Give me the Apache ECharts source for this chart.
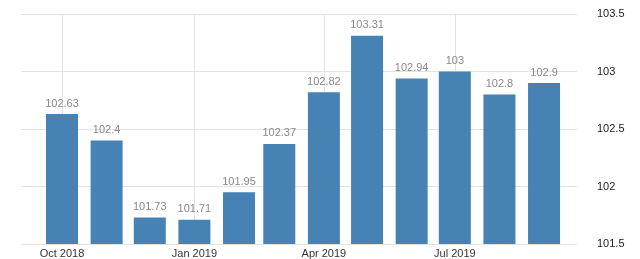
<!DOCTYPE html>
<html><head><meta charset="utf-8">
<script src="https://cdn.jsdelivr.net/npm/echarts@6/dist/echarts.min.js"></script>
<style>html,body{margin:0;padding:0;background:#fff}#c{width:640px;height:259px}</style>
</head><body><div id="c"></div>
<script>
const months = ['2018-10','2018-11','2018-12','2019-01','2019-02','2019-03','2019-04','2019-05','2019-06','2019-07','2019-08','2019-09'];
const values = [102.63,102.4,101.73,101.71,101.95,102.37,102.82,103.31,102.94,103,102.8,102.9];
const xTickDates = ['2018-10','2019-01','2019-04','2019-07'];
const xTickLabels = ['Oct 2018','Jan 2019','Apr 2019','Jul 2019'];
const yTicks = [101.5,102,102.5,103,103.5];

const DAY = 86400000;
const ts = s => { const [y,m] = s.split('-').map(Number); return Date.UTC(y, m-1, 1); };
const t0 = ts('2018-10');
const xMin = t0 - 28.5*DAY;
const xMax = xMin + 386.4*DAY;
const tickTs = xTickDates.map(ts);
const labelMap = {};
tickTs.forEach((t,i) => labelMap[t] = xTickLabels[i]);

const chart = echarts.init(document.getElementById('c'));
chart.setOption({
  animation: false,
  grid: {left: 21, right: 63, top: 14, bottom: 13},
  xAxis: {
    type: 'value', min: xMin, max: xMax, scale: true,
    axisLine: {show: false}, axisTick: {show: false},
    splitLine: {show: false},
    axisLabel: {
      customValues: tickTs,
      formatter: v => labelMap[v] || '',
      color: '#333', fontSize: 11, margin: 4, fontFamily: 'Arial, Liberation Sans, sans-serif'
    }
  },
  yAxis: {
    type: 'value', position: 'right', min: yTicks[0], max: yTicks[yTicks.length-1], interval: 0.5,
    axisLine: {show: false}, axisTick: {show: false},
    splitLine: {lineStyle: {color: '#e3e3e3', width: 1}},
    axisLabel: {color: '#222', fontSize: 11, margin: 20, fontFamily: 'Arial, Liberation Sans, sans-serif'}
  },
  series: [
    {
      type: 'line', data: [], z: 1, silent: true,
      markLine: {
        z: 1, symbol: 'none', silent: true, label: {show: false},
        lineStyle: {color: '#e3e3e3', type: 'solid', width: 1},
        data: tickTs.map(t => ({xAxis: t}))
      }
    },
    {
      type: 'bar', z: 3, barWidth: 32,
      data: months.map((m,i) => [ts(m), values[i]]),
      itemStyle: {color: '#4682b4'},
      label: {show: true, position: 'top', distance: 5, color: '#888', fontSize: 11,
        fontFamily: 'Arial, Liberation Sans, sans-serif',
        formatter: p => String(p.value[1])}
    }
  ]
});
</script></body></html>
